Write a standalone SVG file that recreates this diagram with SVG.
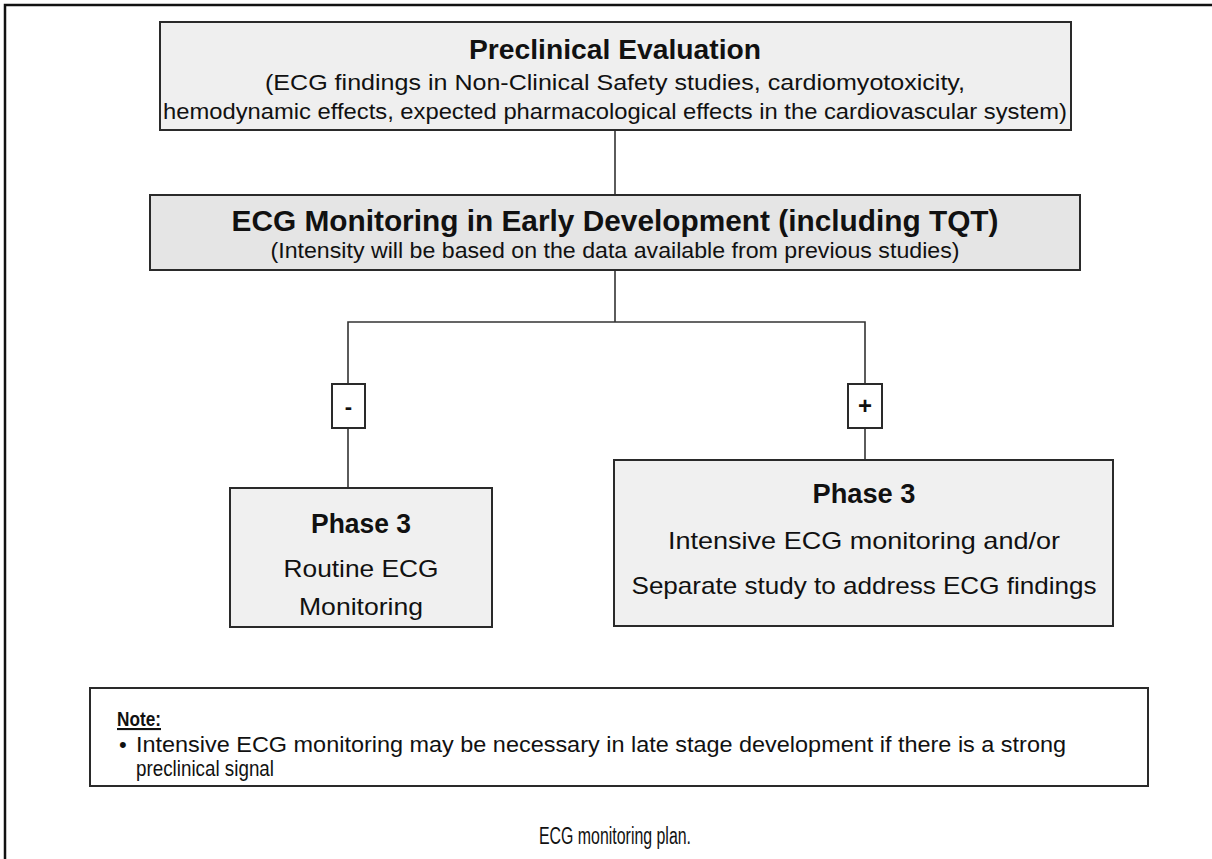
<svg xmlns="http://www.w3.org/2000/svg" width="1212" height="859" viewBox="0 0 1212 859">
<style>
.box{stroke:#2a2a2a;stroke-width:2}
.conn{stroke:#333;stroke-width:1.6;fill:none}
text{font-family:"Liberation Sans",Arial,sans-serif;fill:#111;text-anchor:middle}
.b{font-weight:bold}
.s{text-anchor:start}
</style>
<rect x="0" y="0" width="1212" height="859" fill="#ffffff"/>
<g id="frame">
<path d="M5,859 V5 H1212" fill="none" stroke="#111" stroke-width="2.5"/>
</g>
<g id="connectors">
<path class="conn" d="M615,130 V195"/>
<path class="conn" d="M615,270 V322"/>
<path class="conn" d="M348,384 V322 H865 V384"/>
<path class="conn" d="M348,428 V488"/>
<path class="conn" d="M865,428 V460"/>
</g>
<g id="preclinical">
<rect class="box" x="160" y="22" width="911" height="108" fill="#efefef"/>
<text class="b" x="615" y="59" font-size="27" textLength="292" lengthAdjust="spacingAndGlyphs">Preclinical Evaluation</text>
<text x="615" y="90" font-size="22" textLength="700" lengthAdjust="spacingAndGlyphs">(ECG findings in Non-Clinical Safety studies, cardiomyotoxicity,</text>
<text x="615" y="119" font-size="22" textLength="904" lengthAdjust="spacingAndGlyphs">hemodynamic effects, expected pharmacological effects in the cardiovascular system)</text>
</g>
<g id="early">
<rect class="box" x="150" y="195" width="930" height="75" fill="#e5e5e5"/>
<text class="b" x="615" y="231" font-size="29" textLength="767" lengthAdjust="spacingAndGlyphs">ECG Monitoring in Early Development (including TQT)</text>
<text x="615" y="258" font-size="22" textLength="689" lengthAdjust="spacingAndGlyphs">(Intensity will be based on the data available from previous studies)</text>
</g>
<g id="minus">
<rect class="box" x="332" y="384" width="33" height="44" fill="#ffffff"/>
<text class="b" x="348.5" y="414" font-size="22">-</text>
</g>
<g id="plus">
<rect class="box" x="848" y="384" width="34" height="44" fill="#ffffff"/>
<text class="b" x="865" y="414" font-size="24">+</text>
</g>
<g id="phase3-routine">
<rect class="box" x="230" y="488" width="262" height="139" fill="#f0f0f0"/>
<text class="b" x="361" y="533" font-size="27" textLength="100" lengthAdjust="spacingAndGlyphs">Phase 3</text>
<text x="361" y="577" font-size="24" textLength="155" lengthAdjust="spacingAndGlyphs">Routine ECG</text>
<text x="361" y="615" font-size="24" textLength="124" lengthAdjust="spacingAndGlyphs">Monitoring</text>
</g>
<g id="phase3-intensive">
<rect class="box" x="614" y="460" width="499" height="166" fill="#f0f0f0"/>
<text class="b" x="864" y="503" font-size="27" textLength="103" lengthAdjust="spacingAndGlyphs">Phase 3</text>
<text x="864" y="549" font-size="24" textLength="392" lengthAdjust="spacingAndGlyphs">Intensive ECG monitoring and/or</text>
<text x="864" y="594" font-size="24" textLength="465" lengthAdjust="spacingAndGlyphs">Separate study to address ECG findings</text>
</g>
<g id="note">
<rect class="box" x="90" y="688" width="1058" height="98" fill="#ffffff"/>
<text class="b s" x="117" y="726" font-size="21" textLength="44" lengthAdjust="spacingAndGlyphs" text-decoration="underline">Note:</text>
<text class="s" x="119" y="752" font-size="22">•</text>
<text class="s" x="136" y="752" font-size="22" textLength="930" lengthAdjust="spacingAndGlyphs">Intensive ECG monitoring may be necessary in late stage development if there is a strong</text>
<text class="s" x="136" y="776" font-size="22" textLength="138" lengthAdjust="spacingAndGlyphs">preclinical signal</text>
</g>
<g id="caption">
<text x="615" y="844" font-size="23" textLength="152" lengthAdjust="spacingAndGlyphs">ECG monitoring plan.</text>
</g>
</svg>
